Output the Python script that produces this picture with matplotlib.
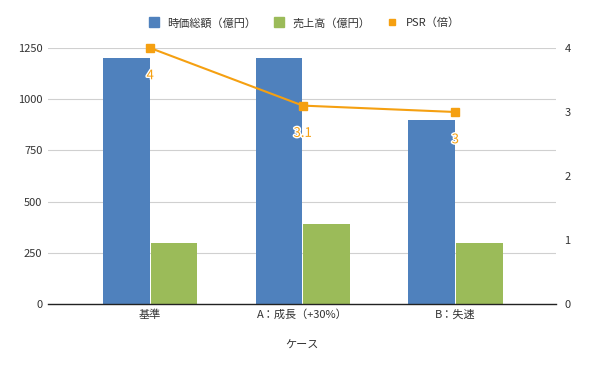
import matplotlib
matplotlib.use("Agg")
import matplotlib.pyplot as plt
import matplotlib.patheffects as pe
from matplotlib.lines import Line2D
import numpy as np

plt.rcParams["font.family"] = ["Noto Sans CJK JP", "DejaVu Sans"]

cases = ["基準", "A：成長（+30%）", "B：失速"]
market_cap = [1200, 1200, 900]
sales = [300, 390, 300]
psr = [4, 3.1, 3]
psr_labels = ["4", "3.1", "3"]

BLUE = "#4F81BD"
GREEN = "#9BBB59"
ORANGE = "#F5A011"
TEXT = "#333333"

fig = plt.figure(figsize=(6, 3.71), dpi=100)
ax = fig.add_axes([0.08, 0.1806, 0.8467, 0.6900])
ax2 = ax.twinx()

x = np.arange(len(cases))
w = 0.305
ax.bar(x - 0.157, market_cap, width=w, color=BLUE, zorder=2)
ax.bar(x + 0.157, sales, width=w, color=GREEN, zorder=2)

ax.set_xlim(-0.67, 2.66)
ax.set_ylim(0, 1250)
ax.set_yticks([0, 250, 500, 750, 1000, 1250])
ax.grid(axis="y", color="#d0d0d0", linewidth=0.8, zorder=0)
ax.set_axisbelow(True)
ax.set_xticks(x)
ax.set_xticklabels(cases)
ax.tick_params(length=0, labelsize=8, colors=TEXT, pad=4)
ax.tick_params(axis="x", pad=4)
for s in ["left", "right", "top"]:
    ax.spines[s].set_visible(False)
ax.spines["bottom"].set_color("#222222")
ax.spines["bottom"].set_linewidth(1.0)
ax.spines["bottom"].set_zorder(3)
ax.set_xlabel("ケース", fontsize=8, color=TEXT, labelpad=15)

ax2.plot(x, psr, color=ORANGE, linewidth=1.5, marker="s", markersize=6,
         zorder=4, clip_on=False)
ax2.set_ylim(0, 4)
ax2.set_yticks([0, 1, 2, 3, 4])
ax2.tick_params(length=0, labelsize=8, colors=TEXT, pad=6)
for s in ["left", "right", "top", "bottom"]:
    ax2.spines[s].set_visible(False)

for xi, yi, lab in zip(x, psr, psr_labels):
    ax2.annotate(lab, (xi, yi), xytext=(0, -20), textcoords="offset points",
                 ha="center", va="center", fontsize=9.5, color=ORANGE,
                 path_effects=[pe.withStroke(linewidth=2, foreground="white")],
                 zorder=5)

handles = [
    Line2D([], [], linestyle="none", marker="s", markersize=7, color=BLUE),
    Line2D([], [], linestyle="none", marker="s", markersize=7, color=GREEN),
    Line2D([], [], linestyle="none", marker="s", markersize=5, color=ORANGE),
]
fig.legend(handles, ["時価総額（億円）", "売上高（億円）", "PSR（倍）"],
           loc="center", bbox_to_anchor=(0.507, 0.938), ncol=3, frameon=False,
           fontsize=8, handlelength=1.0, handletextpad=0.7,
           columnspacing=1.5, labelcolor=TEXT)

fig.savefig("out.png", dpi=100)
